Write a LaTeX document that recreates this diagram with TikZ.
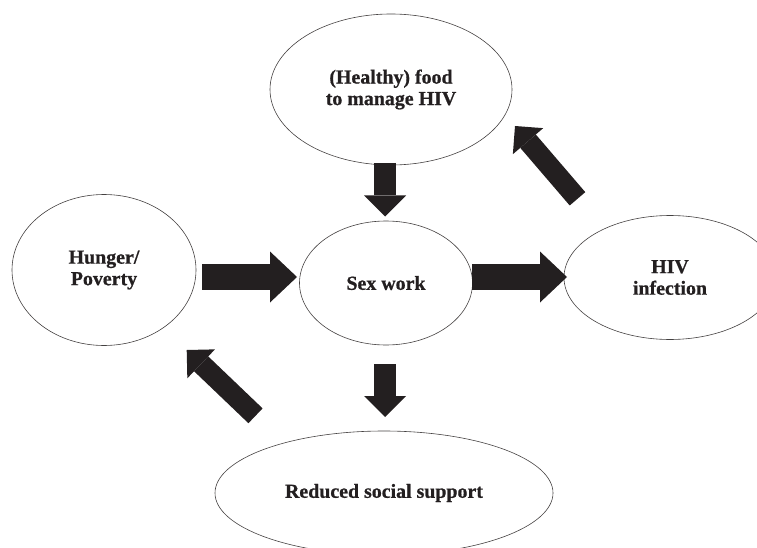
\documentclass[tikz,border=0pt]{standalone}
\usepackage{fontspec}
\setmainfont{Liberation Serif}[BoldFeatures={FakeBold=0.8}]
\usetikzlibrary{arrows.meta,shapes.geometric}
\definecolor{ink}{RGB}{35,31,32}
\begin{document}
\begin{tikzpicture}[x=1pt,y=-1pt,
  bubble/.style={draw=ink!85, line width=0.6pt, ellipse, inner sep=0pt, align=center, text=ink,
    font=\fontsize{19.9}{21.5}\selectfont\bfseries},
  harrow/.style={draw=ink, line width=26.6pt, -{Triangle[width=51pt,length=27pt,line width=0pt]}},
  varrow/.style={draw=ink, line width=21.7pt, -{Triangle[width=42pt,length=21pt,line width=0pt]}},
  darrow/.style={draw=ink, line width=20.5pt, -{Triangle[width=40pt,length=20pt,line width=0pt]}}]
\useasboundingbox (0,0) rectangle (757,548);
\clip (0,0) rectangle (757,548);

\node[bubble, minimum width=242pt, minimum height=151pt] (food) at (391,89.5) {(Healthy) food\\to manage HIV};
\node[bubble, minimum width=184pt, minimum height=151pt] (hunger) at (104,270) {Hunger/\\Poverty};
\node[bubble, minimum width=173pt, minimum height=124pt] (sex) at (386,283) {Sex work};
\node[bubble, minimum width=212pt, minimum height=124pt] (hiv) at (670,277.5) {HIV\\infection};
\node[bubble, minimum width=338pt, minimum height=124pt] (reduced) at (384,493) {Reduced social support};

\coordinate (a1s) at (202,277);
\coordinate (a1e) at (297,277);
\coordinate (a2s) at (472,277);
\coordinate (a2e) at (567,277);
\coordinate (a3s) at (385,163);
\coordinate (a3e) at (385,216.5);
\coordinate (a4s) at (385,364);
\coordinate (a4e) at (385,417);
\coordinate (a5s) at (577.5,198.8);
\coordinate (a5e) at (515,126);
\coordinate (a6s) at (255.5,415.8);
\coordinate (a6e) at (186.7,350);

\draw[harrow] (a1s) -- (a1e);
\draw[harrow] (a2s) -- (a2e);
\draw[varrow] (a3s) -- (a3e);
\draw[varrow] (a4s) -- (a4e);
\draw[darrow] (a5s) -- (a5e);
\draw[darrow] (a6s) -- (a6e);
\end{tikzpicture}
\end{document}
